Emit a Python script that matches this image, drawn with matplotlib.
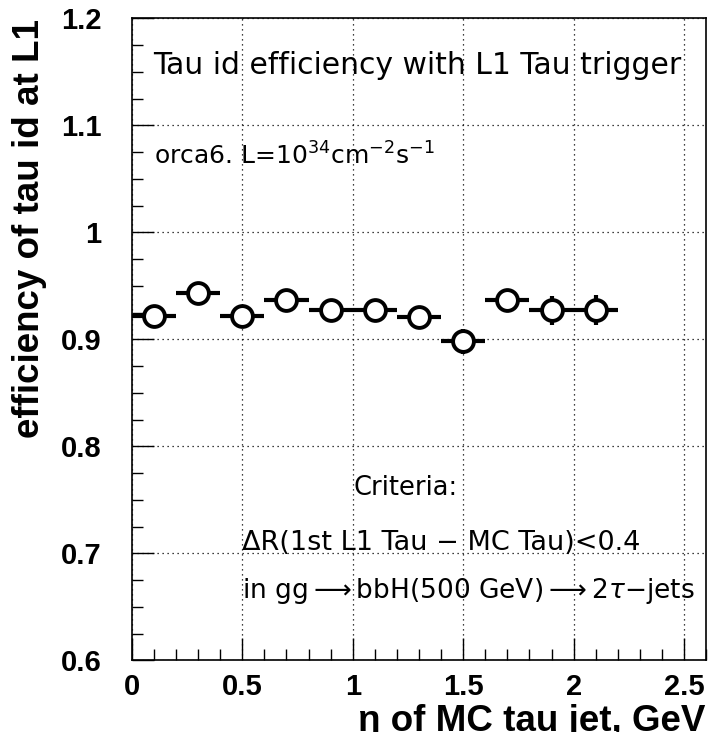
"""Tau id efficiency with L1 Tau trigger vs eta of MC tau jet"""
import numpy as np
import matplotlib.pyplot as plt
import matplotlib.ticker as plticker

# bin centres and half widths in eta
ETA = [0.1, 0.3, 0.5, 0.7, 0.9, 1.1, 1.3, 1.5, 1.7, 1.9, 2.1]
ETA_HALF = [0.1] * 11
EFF = [0.922, 0.943, 0.922, 0.937, 0.927, 0.927, 0.921, 0.898, 0.937, 0.927, 0.927]
EFF_ERR = [0.005, 0.005, 0.005, 0.006, 0.006, 0.006, 0.007, 0.012, 0.0095, 0.0135, 0.014]

fig = plt.figure(figsize=(7.09, 7.32), dpi=100)
ax = fig.add_axes([0.186, 0.098, 0.810, 0.877])

ax.errorbar(ETA, EFF, xerr=ETA_HALF, yerr=EFF_ERR, fmt='o', color='black',
            mfc='white', mec='black', ms=15, mew=2.8, elinewidth=3, capsize=0, zorder=3)

ax.set_xlim(0, 2.6)
ax.set_ylim(0.6, 1.2)
ax.xaxis.set_major_locator(plticker.MultipleLocator(0.5))
ax.xaxis.set_minor_locator(plticker.MultipleLocator(0.1))
ax.yaxis.set_major_locator(plticker.MultipleLocator(0.1))
ax.yaxis.set_minor_locator(plticker.MultipleLocator(0.025))
ax.xaxis.set_major_formatter(plticker.FuncFormatter(lambda v, p: f'{v:g}'))
ax.yaxis.set_major_formatter(plticker.FuncFormatter(lambda v, p: f'{v:g}'))
ax.tick_params(which='both', direction='in', top=False, right=False)
ax.tick_params(which='major', length=16, width=1)
ax.tick_params(which='minor', length=8, width=1)
ax.tick_params(axis='x', pad=9)
ax.tick_params(axis='y', pad=22)
for lab in ax.get_xticklabels() + ax.get_yticklabels():
    lab.set_fontfamily('Liberation Sans')
    lab.set_fontweight('bold')
    lab.set_fontsize(21)
ax.grid(True, which='major', linestyle=(0, (1, 3)), color='black', linewidth=0.9)
for s in ax.spines.values():
    s.set_linewidth(1.2)

# axis titles sit at the top / right end like in ROOT
fig.text(30 / 709, 1 - 19 / 732, 'efficiency of tau id at L1', rotation=90,
         ha='center', va='top', fontfamily='Liberation Sans', fontweight='bold', fontsize=26.5)
fig.text(705 / 709, 1 / 732, 'η of MC tau jet, GeV', ha='right', va='baseline',
         fontfamily='Liberation Sans', fontweight='bold', fontsize=26.5)

txt = dict(fontfamily='DejaVu Sans', color='black', va='baseline', transform=ax.transData)
ax.text(0.095, 1.148, 'Tau id efficiency with L1 Tau trigger', fontsize=21.5, **txt)
ax.text(0.1, 1.063, r'orca6. L=10$^{34}$cm$^{-2}$s$^{-1}$', fontsize=18, **txt)
ax.text(1.005, 0.754, 'Criteria:', fontsize=18.5, **txt)
ax.text(0.498, 0.703, 'ΔR(1st L1 Tau − MC Tau)<0.4', fontsize=19.5, **txt)
ax.text(0.498, 0.658, r'in gg$\longrightarrow$bbH(500 GeV)$\longrightarrow$2$\tau$−jets',
        fontsize=19, **txt)

fig.savefig('out.png', dpi=100)
